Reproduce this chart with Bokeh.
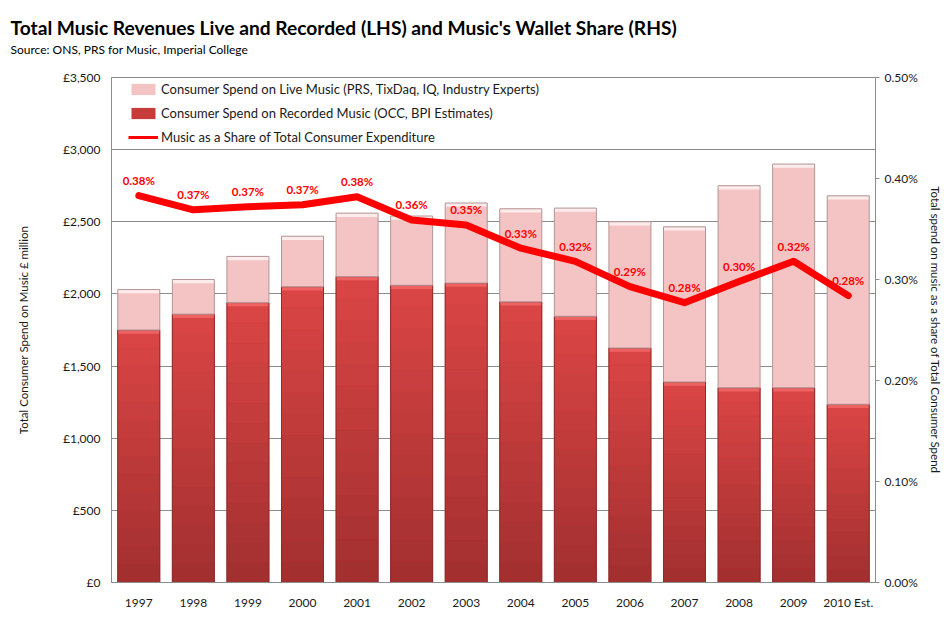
from bokeh.plotting import figure
from bokeh.models import (ColumnDataSource, FactorRange, Range1d, LinearAxis, FixedTicker,
                          PrintfTickFormatter, Legend, LegendItem, Title)
from bokeh.embed import file_html
from bokeh.resources import INLINE
from bokeh.core.properties import value

# ---------------- data ----------------
years = ["1997", "1998", "1999", "2000", "2001", "2002", "2003",
         "2004", "2005", "2006", "2007", "2008", "2009", "2010 Est."]
recorded = [1750, 1860, 1940, 2050, 2120, 2060, 2075, 1945, 1845, 1625, 1390, 1350, 1350, 1235]
live = [280, 240, 320, 350, 440, 480, 555, 645, 750, 875, 1075, 1400, 1550, 1445]
share = [0.383, 0.369, 0.372, 0.374, 0.382, 0.359, 0.354, 0.331, 0.318, 0.293, 0.277, 0.298, 0.318, 0.284]

left_ticks = [0, 500, 1000, 1500, 2000, 2500, 3000, 3500]
left_tick_labels = ["£0", "£500", "£1,000", "£1,500", "£2,000", "£2,500", "£3,000", "£3,500"]
right_ticks = [0.0, 0.1, 0.2, 0.3, 0.4, 0.5]

title_text = "Total Music Revenues Live and Recorded (LHS) and Music's Wallet Share (RHS)"
source_text = "Source: ONS, PRS for Music, Imperial College"
series_names = ["Consumer Spend on Live Music (PRS, TixDaq, IQ, Industry Experts)",
                "Consumer Spend on Recorded Music (OCC, BPI Estimates)",
                "Music as a Share of Total Consumer Expenditure"]

FONT = "Lato"
TXT = "#1a1a1a"
GRID = "#8c8c8c"

total = [r + l for r, l in zip(recorded, live)]
share_labels = [f"{s:.2f}%" for s in share]

src = ColumnDataSource(dict(x=years, rec=recorded, tot=total, share=share, lab=share_labels,
                            rec_hl=[r - 26 for r in recorded], tot_hl=[t - 26 for t in total]))

p = figure(width=944, height=622, x_range=FactorRange(*years), y_range=Range1d(0, 3500),
           output_backend="svg", toolbar_location=None, title=title_text,
           min_border_left=111, min_border_right=60, min_border_top=77, min_border_bottom=40)
p.extra_y_ranges = {"pct": Range1d(0, 0.5)}
p.background_fill_color = "white"
p.border_fill_color = "white"
p.outline_line_color = GRID
p.outline_line_width = 1

# titles: main title (farthest from the frame), source line, then a spacer next to the frame
p.title.text_font = FONT
p.title.text_font_size = "19.2px"
p.title.text_font_style = "bold"
p.title.text_color = "#000000"
p.title.align = "left"
p.title.offset = -101
p.title.standoff = 0
spacer = Title(text=" ", text_font=FONT, text_font_size="1px", standoff=17)
p.add_layout(spacer, "above")
source_title = Title(text=source_text, text_font=FONT, text_font_size="12px",
                     text_font_style="normal", text_color="#000000",
                     align="left", offset=-101, standoff=2)
p.add_layout(source_title, "above")

W = 0.77
# recorded music bars: base + vertical gradient bands
rec_base = p.vbar(x="x", top="rec", bottom=0, width=W, source=src,
                  fill_color="#c83b3b", line_color=None)
N = 14
c0 = (0xA2, 0x2F, 0x2F)   # bottom
c1 = (0xDC, 0x46, 0x46)   # top
for i in range(N):
    f = (i + 0.5) / N
    col = "#%02x%02x%02x" % tuple(int(a + (b - a) * f) for a, b in zip(c0, c1))
    p.vbar(x=years, bottom=[r * i / N for r in recorded], top=[r * (i + 1) / N for r in recorded],
           width=W, fill_color=col, line_color=col, line_width=0.6)
p.vbar(x="x", top="rec", bottom="rec_hl", width=W, source=src, fill_color="#f06262", line_color=None)
p.vbar(x="x", top="rec", bottom=0, width=W, source=src, fill_alpha=0,
       line_color="#8e2c2c", line_width=1)

# live music bars
live_base = p.vbar(x="x", top="tot", bottom="rec", width=W, source=src,
                   fill_color="#f4c4c4", line_color=None)
p.vbar(x="x", top="tot", bottom="tot_hl", width=W, source=src, fill_color="#fdecec", line_color=None)
p.vbar(x="x", top="tot", bottom="rec", width=W, source=src, fill_alpha=0,
       line_color="#b49494", line_width=1)

# share line
p.line(x="x", y="share", source=src, y_range_name="pct", line_color="#ff0000",
       line_width=7, line_join="round", line_cap="round")
legend_line = p.line(x=[years[0]], y=[float("nan")], line_color="#ff0000", line_width=3)

p.text(x="x", y="share", text="lab", source=src, y_range_name="pct", y_offset=-15,
       text_align="center", text_baseline="middle", text_color="#ff0000",
       text_font=value(FONT), text_font_style="bold", text_font_size=value("11.5px"))

# grids
p.xgrid.grid_line_color = None
p.ygrid.ticker = FixedTicker(ticks=left_ticks)
p.ygrid.grid_line_color = GRID
p.ygrid.grid_line_width = 1

# left axis
ya = p.yaxis[0]
ya.ticker = FixedTicker(ticks=left_ticks)
ya.major_label_overrides = {t: s for t, s in zip(left_ticks, left_tick_labels)}
ya.axis_label = "Total Consumer Spend on Music £ million"
ya.axis_label_standoff = 30
ya.major_label_standoff = 11

# right axis
ra = LinearAxis(y_range_name="pct", ticker=FixedTicker(ticks=right_ticks),
                formatter=PrintfTickFormatter(format="%.2f%%"),
                axis_label="Total spend on music as a share of Total Consumer Spend")
p.add_layout(ra, "right")
ra.major_tick_out = 4
ra.major_label_standoff = 5
ra.axis_label_standoff = 8

xa = p.xaxis[0]
xa.major_label_standoff = 12

for ax in [ya, ra, xa]:
    ax.axis_line_color = GRID
    ax.major_tick_line_color = GRID
    ax.minor_tick_line_color = None
    ax.major_label_text_font = FONT
    ax.major_label_text_font_size = "12px"
    ax.major_label_text_color = TXT
    ax.axis_label_text_font = FONT
    ax.axis_label_text_font_size = "11.5px"
    ax.axis_label_text_font_style = "normal"
    ax.axis_label_text_color = TXT
ya.major_tick_in = 0
ya.major_tick_out = 0
xa.major_tick_in = 0
xa.major_tick_out = 0
ra.major_tick_in = 0

# legend
legend = Legend(items=[LegendItem(label=series_names[0], renderers=[live_base]),
                       LegendItem(label=series_names[1], renderers=[rec_base]),
                       LegendItem(label=series_names[2], renderers=[legend_line])],
                location=(17, 437), orientation="vertical", margin=0, padding=0,
                spacing=8, glyph_width=30, glyph_height=14, label_height=15,
                label_standoff=3, border_line_color=None, background_fill_alpha=0,
                label_text_font=FONT, label_text_font_size="13px", label_text_color=TXT)
p.add_layout(legend)

open("out.html", "w").write(file_html(p, INLINE))
